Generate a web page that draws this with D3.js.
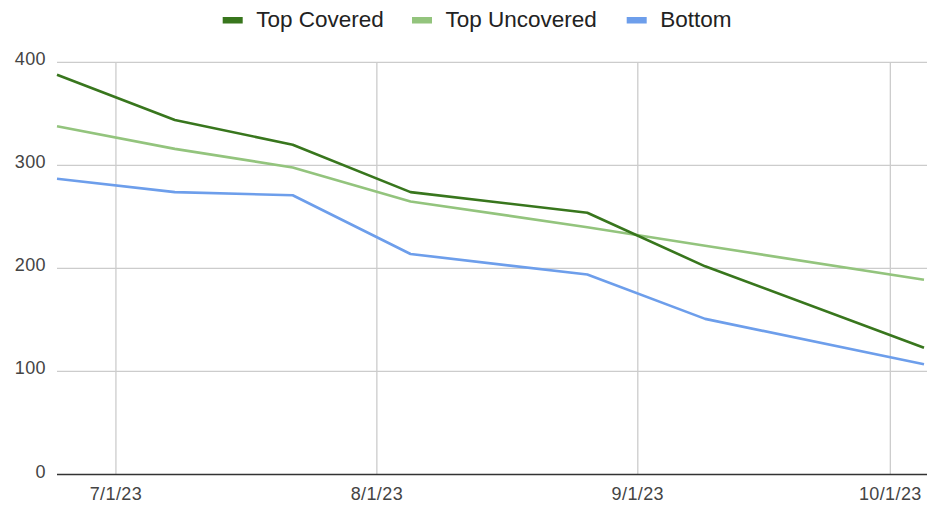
<!DOCTYPE html>
<html>
<head>
<meta charset="utf-8">
<script src="https://cdn.jsdelivr.net/npm/d3@7"></script>
<style>
  body { margin: 0; background: #fff; }
  svg text { font-family: "Liberation Sans", Arial, sans-serif; }
</style>
</head>
<body>
<div id="chart"></div>
<script>
// data
var dates = ["2023-06-24", "2023-07-08", "2023-07-22", "2023-08-05", "2023-08-26", "2023-09-09", "2023-10-05"];
var topCovered = [388, 344, 320, 274, 254, 202, 123];
var topUncovered = [338, 316, 298, 265, 240, 222, 189];
var bottom = [287, 274, 271, 214, 194, 151, 107];
var seriesNames = ["Top Covered", "Top Uncovered", "Bottom"];
var seriesColors = ["#38761d", "#93c47d", "#6d9eeb"];
var yTicks = [0, 100, 200, 300, 400];
var xTicks = ["2023-07-01", "2023-08-01", "2023-09-01", "2023-10-01"];

var W = 927, H = 506;
var plotL = 57, plotR = 924, plotT = 62.3, plotB = 474.5;

var parse = d3.timeParse("%Y-%m-%d");
var fmt = d3.timeFormat("%-m/%-d/%y");

var svg = d3.select("#chart").append("svg")
  .attr("width", W).attr("height", H);

var x = d3.scaleTime()
  .domain([parse(dates[0]), parse(dates[dates.length - 1])])
  .range([plotL, plotR]);
var y = d3.scaleLinear().domain([0, 400]).range([plotB, plotT]);

// horizontal grid
svg.append("g").selectAll("line").data(yTicks.filter(function(d){ return d > 0; }))
  .enter().append("line")
  .attr("x1", plotL).attr("x2", W)
  .attr("y1", function(d){ return y(d); }).attr("y2", function(d){ return y(d); })
  .attr("stroke", "#cccccc").attr("stroke-width", 1.3);

// vertical grid
svg.append("g").selectAll("line").data(xTicks)
  .enter().append("line")
  .attr("x1", function(d){ return x(parse(d)); }).attr("x2", function(d){ return x(parse(d)); })
  .attr("y1", plotT).attr("y2", plotB)
  .attr("stroke", "#cccccc").attr("stroke-width", 1.3);

// zero line
svg.append("line")
  .attr("x1", plotL).attr("x2", W).attr("y1", y(0)).attr("y2", y(0))
  .attr("stroke", "#333333").attr("stroke-width", 1.3);

// y labels
svg.append("g").selectAll("text").data(yTicks)
  .enter().append("text")
  .attr("x", 46).attr("y", function(d){ return y(d) + 3; })
  .attr("text-anchor", "end")
  .attr("font-size", 18).attr("letter-spacing", 0.4)
  .attr("fill", "#444444")
  .text(function(d){ return d; });

// x labels
svg.append("g").selectAll("text").data(xTicks)
  .enter().append("text")
  .attr("x", function(d){ return x(parse(d)); }).attr("y", 499.5)
  .attr("text-anchor", "middle")
  .attr("font-size", 18).attr("letter-spacing", 0.4)
  .attr("fill", "#444444")
  .text(function(d){ return fmt(parse(d)); });

// lines
var allSeries = [topCovered, topUncovered, bottom];
var line = d3.line()
  .x(function(d, i){ return x(parse(dates[i])); })
  .y(function(d){ return y(d); });

// draw bottom first so greens sit on top
[2, 1, 0].forEach(function(s){
  svg.append("path")
    .datum(allSeries[s])
    .attr("fill", "none")
    .attr("stroke", seriesColors[s])
    .attr("stroke-width", 2.6)
    .attr("stroke-linejoin", "round")
    .attr("d", line);
});

// legend
var legendX = [222.7, 412, 626.7];
var lg = svg.append("g");
seriesNames.forEach(function(n, i){
  lg.append("rect")
    .attr("x", legendX[i]).attr("y", 17)
    .attr("width", 20).attr("height", 6.5)
    .attr("fill", seriesColors[i]);
  lg.append("text")
    .attr("x", legendX[i] + 33.5).attr("y", 27)
    .attr("font-size", 22.5)
    .attr("fill", "#222222")
    .text(n);
});
</script>
</body>
</html>
